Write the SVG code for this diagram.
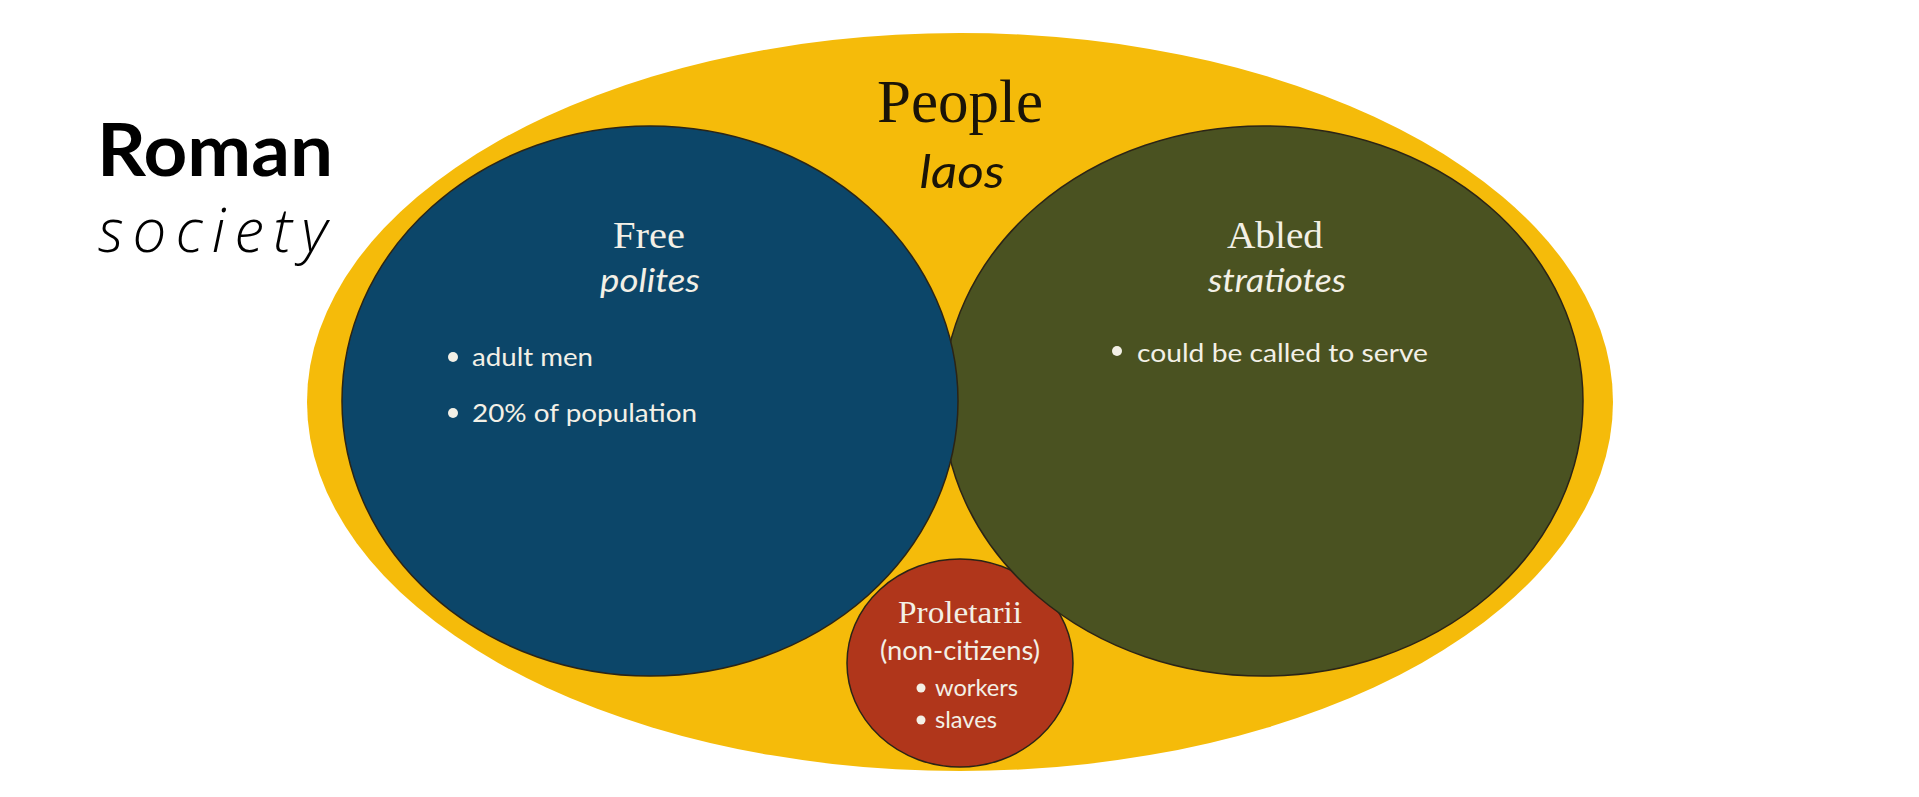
<svg xmlns="http://www.w3.org/2000/svg" width="1919" height="797" viewBox="0 0 1919 797">
<style>
.ring{stroke:#2b2416;stroke-width:1.5}
.serif{font-family:"Liberation Serif","Times New Roman",serif}
.sans{font-family:Lato,"Open Sans","Liberation Sans",sans-serif}
.it{font-family:Lato,"Open Sans","Liberation Sans",sans-serif;font-style:italic;font-weight:400}
.light{fill:#F3F0E6}
.dot{fill:#F3F0E6}
</style>
<rect width="1919" height="797" fill="#ffffff"/>
<g id="title">
<text x="97" y="176" class="sans" font-weight="700" font-size="72" fill="#000" textLength="236" lengthAdjust="spacingAndGlyphs">Roman</text>
<text x="98" y="252" font-family="'Open Sans',Lato,'Liberation Sans',sans-serif" font-style="italic" font-weight="300" font-size="60" fill="#000" textLength="229" lengthAdjust="spacing">society</text>
</g>
<g id="people">
<ellipse cx="960" cy="402" rx="653" ry="369" fill="#F5BB0A"/>
<text x="960" y="122" class="serif" font-size="62" fill="#1a1408" text-anchor="middle" textLength="166" lengthAdjust="spacingAndGlyphs">People</text>
<text x="962" y="188" class="it" font-size="46" fill="#1a1408" text-anchor="middle" textLength="85" lengthAdjust="spacingAndGlyphs">laos</text>
</g>
<g id="proletarii">
<ellipse class="ring" cx="960" cy="663" rx="113" ry="104" fill="#B0361B"/>
<text x="960" y="623" class="serif light" font-size="32" text-anchor="middle" textLength="124" lengthAdjust="spacingAndGlyphs">Proletarii</text>
<text x="960" y="660" class="sans light" font-size="26" text-anchor="middle" textLength="160" lengthAdjust="spacingAndGlyphs">(non-citizens)</text>
<circle class="dot" cx="921" cy="688" r="4.5"/>
<text x="935" y="696" class="sans light" font-size="24" textLength="83" lengthAdjust="spacingAndGlyphs">workers</text>
<circle class="dot" cx="921" cy="720" r="4.5"/>
<text x="935" y="728" class="sans light" font-size="24" textLength="62" lengthAdjust="spacingAndGlyphs">slaves</text>
</g>
<g id="abled">
<ellipse class="ring" cx="1263" cy="401" rx="320" ry="275" fill="#4A5221"/>
<text x="1275" y="248" class="serif light" font-size="38" text-anchor="middle" textLength="96" lengthAdjust="spacingAndGlyphs">Abled</text>
<text x="1277" y="292" class="it light" font-size="32" text-anchor="middle" textLength="138" lengthAdjust="spacingAndGlyphs">stratiotes</text>
<circle class="dot" cx="1117" cy="351" r="5"/>
<text x="1137" y="362" class="sans light" font-size="25" textLength="291" lengthAdjust="spacingAndGlyphs">could be called to serve</text>
</g>
<g id="free">
<ellipse class="ring" cx="650" cy="401" rx="308" ry="275" fill="#0C4669"/>
<text x="649" y="248" class="serif light" font-size="38" text-anchor="middle" textLength="72" lengthAdjust="spacingAndGlyphs">Free</text>
<text x="650" y="292" class="it light" font-size="32" text-anchor="middle" textLength="100" lengthAdjust="spacingAndGlyphs">polites</text>
<circle class="dot" cx="453" cy="357" r="5"/>
<text x="472" y="366" class="sans light" font-size="25" textLength="121" lengthAdjust="spacingAndGlyphs">adult men</text>
<circle class="dot" cx="453" cy="413" r="5"/>
<text x="472" y="422" class="sans light" font-size="25" textLength="225" lengthAdjust="spacingAndGlyphs">20% of population</text>
</g>
<g id="connectors"/>
</svg>
